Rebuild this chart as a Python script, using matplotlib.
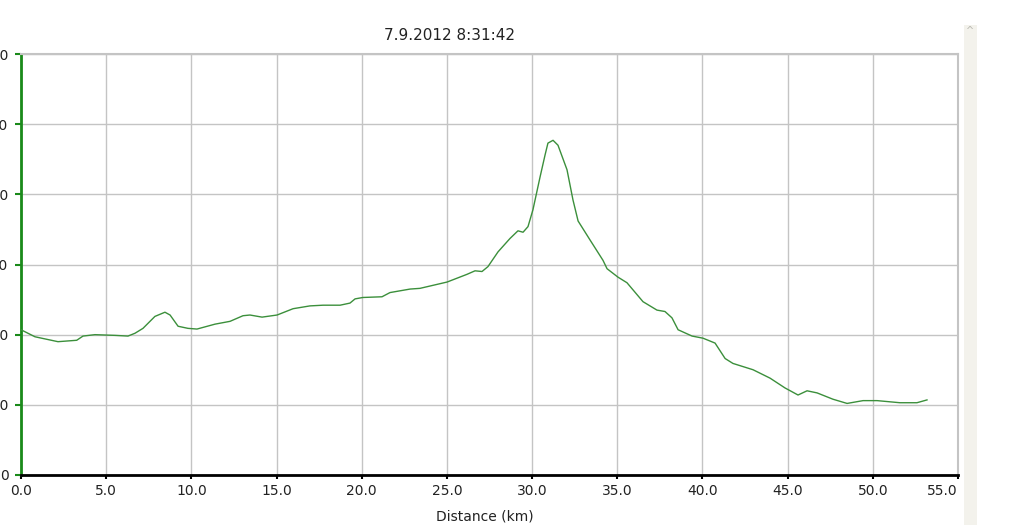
import matplotlib
matplotlib.use("Agg")
import matplotlib.pyplot as plt
from matplotlib.patches import Rectangle

# Elevation profile (distance in km, height in m)
distance_km = [0.0, 0.82, 2.17, 3.27, 3.64, 4.34, 5.52, 6.28, 6.69, 7.16,
               7.86, 8.45, 8.75, 9.22, 9.80, 10.33, 11.39, 12.27, 13.03, 13.44,
               14.15, 15.03, 15.97, 16.96, 17.73, 18.73, 19.31, 19.61, 20.07, 21.19,
               21.66, 22.84, 23.42, 25.01, 26.18, 26.65, 27.06, 27.41, 28.00, 28.70,
               29.17, 29.47, 29.76, 30.05, 30.47, 30.76, 30.93, 31.23, 31.52, 32.05,
               32.40, 32.70, 33.40, 34.16, 34.40, 35.04, 35.57, 36.51, 37.33, 37.80,
               38.21, 38.57, 39.39, 40.03, 40.74, 41.33, 41.79, 42.97, 43.97, 44.85,
               45.61, 46.14, 46.73, 47.66, 48.49, 49.43, 50.25, 51.59, 52.59, 53.18]
elevation_m = [207, 197, 190, 192, 198, 200, 199, 198, 202, 209,
               226, 232, 228, 212, 209, 208, 215, 219, 227, 228,
               225, 228, 237, 241, 242, 242, 245, 251, 253, 254,
               260, 265, 266, 275, 286, 291, 290, 297, 318, 337,
               348, 346, 354, 378, 425, 456, 473, 477, 470, 435,
               392, 362, 335, 306, 294, 282, 274, 247, 235, 233,
               224, 207, 198, 195, 188, 166, 159, 150, 138, 124,
               114, 120, 117, 108, 102, 106, 106, 103, 103, 107]

x_ticks = [0, 5, 10, 15, 20, 25, 30, 35, 40, 45, 50, 55]
x_tick_labels = ["0.0", "5.0", "10.0", "15.0", "20.0", "25.0", "30.0",
                 "35.0", "40.0", "45.0", "50.0", "55.0"]
y_ticks = [0, 100, 200, 300, 400, 500, 600]
y_tick_labels = ["0", "100", "200", "300", "400", "500", "600"]

title_text = "7.9.2012 8:31:42"
x_label = "Distance (km)"

W, H = 1032, 525
fig = plt.figure(figsize=(W / 100, H / 100), dpi=100)
fig.patch.set_facecolor("white")

# axes box in pixels: left 21, right 958, top 54, bottom 475
ax = fig.add_axes([21 / W, (H - 475) / H, (958 - 21) / W, (475 - 54) / H])

ax.plot(distance_km, elevation_m, color="#3b8f3b", lw=1.0, zorder=3)

ax.set_xlim(0, 55)
ax.set_ylim(0, 600)
ax.set_xticks(x_ticks)
ax.set_xticklabels(x_tick_labels)
ax.set_yticks(y_ticks)
ax.set_yticklabels(y_tick_labels)

ax.grid(True, color="#c4c4c4", lw=1.0, zorder=0)
ax.set_axisbelow(True)

for side in ("top", "right"):
    ax.spines[side].set_color("#c4c4c4")
    ax.spines[side].set_linewidth(1.5)
ax.spines["left"].set_color("#1a8a1a")
ax.spines["left"].set_linewidth(2.0)
ax.spines["bottom"].set_color("black")
ax.spines["bottom"].set_linewidth(2.0)

ax.tick_params(axis="x", direction="out", length=3, width=1.5, color="black",
               labelsize=10, labelcolor="#222222", pad=3.5)
ax.tick_params(axis="y", direction="out", length=4, width=1.5, color="#1a8a1a",
               labelsize=10, labelcolor="#222222", pad=5)
# last x label sits inside the axes edge, like the original
ax.get_xticklabels()[-1].set_horizontalalignment("right")
ax.get_xticklabels()[-1].set_x(55.2)

fig.text(485 / W, 1 - 516 / H, x_label, ha="center", va="center",
         fontsize=10, color="#222222")
fig.text(450 / W, 1 - 36 / H, title_text, ha="center", va="center",
         fontsize=11, color="#222222")

# scrollbar strip on the right edge
fig.patches.append(Rectangle((964 / W, 0), 13 / W, (H - 25) / H,
                             transform=fig.transFigure, facecolor="#f3f2ec",
                             edgecolor="none", zorder=0))
fig.text(970 / W, 1 - 31 / H, "^", ha="center", va="center",
         fontsize=7, color="#b8b8b0")

fig.savefig("out.png", dpi=100)
